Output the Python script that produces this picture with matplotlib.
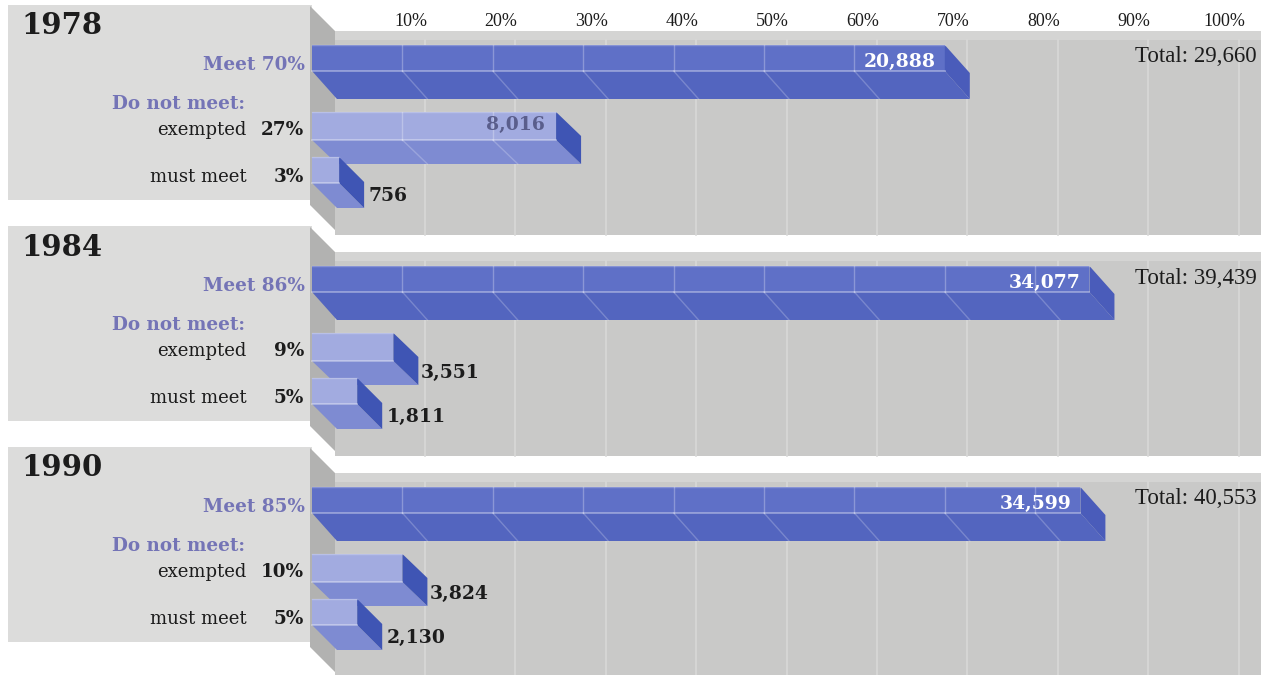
import matplotlib
matplotlib.use('Agg')
import matplotlib.pyplot as plt
from matplotlib.patches import Polygon, Rectangle

# ---------------- data ----------------
years = ['1978', '1984', '1990']
meet_pct = [70, 86, 85]
exempt_pct = [27, 9, 10]
must_pct = [3, 5, 5]
meet_count = [20888, 34077, 34599]
exempt_count = [8016, 3551, 3824]
must_count = [756, 1811, 2130]
totals = [29660, 39439, 40553]
tick_values = [10, 20, 30, 40, 50, 60, 70, 80, 90, 100]
tick_labels = [f'{v}%' for v in tick_values]

# ---------------- layout ----------------
W, H = 1264, 675
X0, PPU = 312, 9.04          # pixel of 0 %, pixels per percent
DEPTH = 25 / PPU             # horizontal depth offset in percent units
PANEL_STEP = 221
ROWS = {  # panel-local (top, mid, bottom) in pixel rows
    'meet': (45, 71, 99),
    'exempt': (112, 140, 164),
    'must': (157, 183, 208),
}

SERIF = 'DejaVu Serif'
PURPLE = '#7474b6'
BLACK = '#1c1c1c'
DARK_COLS = ('#5f70c7', '#5365bf', '#4a5cba')
LIGHT_COLS = ('#a2abe0', '#7e8bd2', '#3f55b4')

fig = plt.figure(figsize=(W / 100, H / 100), dpi=100)
fig.patch.set_facecolor('white')
ax = fig.add_axes([0, 0, 1, 1])
ax.set_xlim(-X0 / PPU, (W - X0) / PPU)
ax.set_ylim(H, 0)
ax.axis('off')


def P(xpx):
    return (xpx - X0) / PPU


def draw_bar(v, rows, cols, z):
    top, mid, bot = rows
    ctop, clow, ccap = cols
    ax.add_patch(Rectangle((0, top), v, mid - top, facecolor=ctop,
                           edgecolor='none', zorder=z))
    ax.add_patch(Polygon([(0, mid), (v, mid), (v + DEPTH, bot), (DEPTH, bot)],
                         closed=True, facecolor=clow, edgecolor='none', zorder=z))
    ax.add_patch(Polygon([(v, top), (v + DEPTH, top + (bot - mid)),
                          (v + DEPTH, bot), (v, mid)],
                         closed=True, facecolor=ccap, edgecolor='none', zorder=z))
    # light grid lines printed on the bar
    for p in tick_values:
        if p < v - 0.5:
            ax.plot([p, p], [top, mid], color='white', alpha=0.28, lw=1,
                    zorder=z + 0.1)
            ax.plot([p, p + DEPTH], [mid, bot], color='white', alpha=0.22,
                    lw=1, zorder=z + 0.1)
    ax.plot([0, v], [mid, mid], color='white', alpha=0.4, lw=1.2,
            zorder=z + 0.1)
    ax.plot([0, v], [top, top], color='white', alpha=0.25, lw=1,
            zorder=z + 0.1)


for i, yr in enumerate(years):
    t = i * PANEL_STEP
    # label area
    ax.add_patch(Rectangle((P(8), t + 5), P(312) - P(8), 195,
                           facecolor='#dcdcdb', edgecolor='none', zorder=1))
    # floor
    ax.add_patch(Rectangle((P(335), t + 31), P(1261) - P(335), 204,
                           facecolor='#c9c9c8', edgecolor='none', zorder=1))
    ax.add_patch(Rectangle((P(335), t + 31), P(1261) - P(335), 9,
                           facecolor='#d4d4d3', edgecolor='none', zorder=1.1))
    # left wall
    ax.add_patch(Polygon([(P(310), t + 6), (P(335), t + 31),
                          (P(335), t + 230), (P(310), t + 205)],
                         closed=True, facecolor='#b2b2b1', edgecolor='none',
                         zorder=1.2))
    # floor grid lines
    for p in tick_values:
        ax.plot([p + DEPTH * 0.9, p + DEPTH * 0.9], [t + 40, t + 235],
                color='#d8d8d7', lw=1.2, zorder=1.3)

    # bars
    draw_bar(meet_pct[i], [t + r for r in ROWS['meet']], DARK_COLS, 3)
    draw_bar(exempt_pct[i], [t + r for r in ROWS['exempt']], LIGHT_COLS, 4)
    draw_bar(must_pct[i], [t + r for r in ROWS['must']], LIGHT_COLS, 5)

    # year title
    ax.text(P(21), t + 26, yr, fontsize=21, fontweight='bold', family=SERIF,
            color=BLACK, ha='left', va='center', zorder=10)
    # category labels
    ax.text(P(305), t + 65, f'Meet {meet_pct[i]}%', fontsize=13.2,
            fontweight='bold', family=SERIF, color=PURPLE, ha='right',
            va='center', zorder=10)
    ax.text(P(112), t + 104, 'Do not meet:', fontsize=13.2, fontweight='bold',
            family=SERIF, color=PURPLE, ha='left', va='center', zorder=10)
    ax.text(P(247), t + 130, 'exempted', fontsize=13, family=SERIF,
            color=BLACK, ha='right', va='center', zorder=10)
    ax.text(P(304), t + 130, f'{exempt_pct[i]}%', fontsize=13.2,
            fontweight='bold', family=SERIF, color=BLACK, ha='right',
            va='center', zorder=10)
    ax.text(P(247), t + 177, 'must meet', fontsize=13, family=SERIF,
            color=BLACK, ha='right', va='center', zorder=10)
    ax.text(P(304), t + 177, f'{must_pct[i]}%', fontsize=13.2,
            fontweight='bold', family=SERIF, color=BLACK, ha='right',
            va='center', zorder=10)

    # value labels
    ax.text(meet_pct[i] - 1.0, t + 62, f'{meet_count[i]:,}', fontsize=13.5,
            fontweight='bold', family=SERIF, color='white', ha='right',
            va='center', zorder=10)
    if exempt_pct[i] * PPU > 150:
        ax.text(exempt_pct[i] - 1.2, t + 125, f'{exempt_count[i]:,}',
                fontsize=13.5, fontweight='bold', family=SERIF,
                color='#5a5e8c', ha='right', va='center', zorder=10)
    else:
        ax.text(exempt_pct[i] + DEPTH + 0.3, t + 152, f'{exempt_count[i]:,}',
                fontsize=13.5, fontweight='bold', family=SERIF, color=BLACK,
                ha='left', va='center', zorder=10)
    ax.text(must_pct[i] + DEPTH + 0.5, t + 196, f'{must_count[i]:,}',
            fontsize=13.5, fontweight='bold', family=SERIF, color=BLACK,
            ha='left', va='center', zorder=10)

    # total
    ax.text(P(1257), t + 57, f'Total: {totals[i]:,}', fontsize=16.5,
            family='Liberation Serif', color=BLACK, ha='right', va='center',
            zorder=10)

# percent scale on top
for v, lab in zip(tick_values, tick_labels):
    ax.text(v + 0.9, 21, lab, fontsize=13, family='Liberation Serif',
            color=BLACK, ha='center', va='center', zorder=10)

fig.savefig('out.png', dpi=100, facecolor='white')
